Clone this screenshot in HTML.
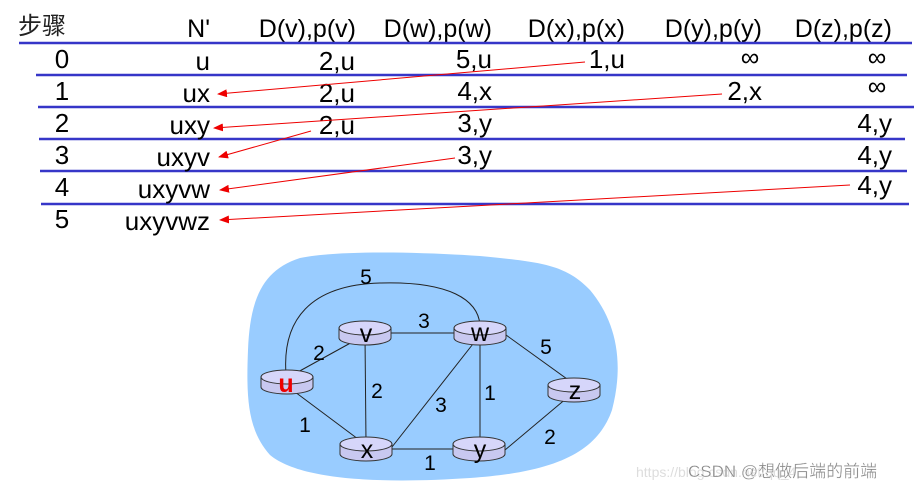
<!DOCTYPE html>
<html><head><meta charset="utf-8"><style>
html,body{margin:0;padding:0;background:#fff;width:914px;height:492px;overflow:hidden}
svg text{font-family:"Liberation Sans","Noto Sans CJK SC",sans-serif}
</style></head><body>
<svg width="914" height="492" viewBox="0 0 914 492" xmlns="http://www.w3.org/2000/svg">
<defs>
<marker id="ar" markerWidth="10" markerHeight="8" refX="9" refY="4" orient="auto" markerUnits="userSpaceOnUse">
<path d="M0,0 L10,4 L0,8 z" fill="#e00"/>
</marker>
<g id="node">
<path d="M-26,-5 L-26,5 A26,7 0 0 0 26,5 L26,-5 Z" fill="#c8c8f0" stroke="#333" stroke-width="1"/>
<ellipse cx="0" cy="-5" rx="26" ry="7" fill="#d6d6fa" stroke="#333" stroke-width="1"/>
</g>
</defs>
<g font-size="25" fill="#000">
<text x="18" y="34" font-family="'Noto Serif CJK SC',serif" font-size="24" fill="#222">步骤</text>
<text x="210" y="37" text-anchor="end">N'</text>
<text x="356" y="37" text-anchor="end">D(v),p(v)</text>
<text x="492" y="37" text-anchor="end">D(w),p(w)</text>
<text x="625" y="37" text-anchor="end">D(x),p(x)</text>
<text x="762" y="37" text-anchor="end">D(y),p(y)</text>
<text x="892" y="37" text-anchor="end">D(z),p(z)</text>
</g>
<g stroke="#3636c8" stroke-width="2.5">
<line x1="19" y1="43" x2="912" y2="43"/>
<line x1="36" y1="75" x2="907" y2="75"/>
<line x1="38" y1="107" x2="914" y2="107"/>
<line x1="39" y1="139" x2="905" y2="139"/>
<line x1="40" y1="171" x2="907" y2="171"/>
<line x1="41" y1="204" x2="909" y2="204"/>
</g>
<g font-size="26" fill="#000">
<text x="62" y="68" text-anchor="middle">0</text>
<text x="62" y="100" text-anchor="middle">1</text>
<text x="62" y="132" text-anchor="middle">2</text>
<text x="62" y="164" text-anchor="middle">3</text>
<text x="62" y="196" text-anchor="middle">4</text>
<text x="62" y="228" text-anchor="middle">5</text>
<g text-anchor="end">
<text x="210" y="70">u</text>
<text x="210" y="102">ux</text>
<text x="210" y="134">uxy</text>
<text x="210" y="166">uxyv</text>
<text x="210" y="198">uxyvw</text>
<text x="210" y="230">uxyvwz</text>
<text x="355" y="70">2,u</text>
<text x="355" y="102">2,u</text>
<text x="355" y="134">2,u</text>
<text x="492" y="68">5,u</text>
<text x="492" y="100">4,x</text>
<text x="492" y="132">3,y</text>
<text x="492" y="164">3,y</text>
<text x="625" y="68">1,u</text>
<text x="762" y="100">2,x</text>
<text x="892" y="132">4,y</text>
<text x="892" y="164">4,y</text>
<text x="892" y="194">4,y</text>
</g>
<text x="750" y="66" text-anchor="middle">∞</text>
<text x="877" y="66" text-anchor="middle">∞</text>
<text x="877" y="95" text-anchor="middle">∞</text>
</g>
<g stroke="#e00" stroke-width="1" fill="none">
<line x1="585" y1="62" x2="218" y2="94" marker-end="url(#ar)"/>
<line x1="722" y1="94" x2="214" y2="128" marker-end="url(#ar)"/>
<line x1="311" y1="131" x2="219" y2="157" marker-end="url(#ar)"/>
<line x1="455" y1="158" x2="220" y2="190" marker-end="url(#ar)"/>
<line x1="850" y1="185" x2="220" y2="220" marker-end="url(#ar)"/>
</g>
<path d="M300,258 C340,250 420,252 480,256 C540,262 565,264 590,290 C615,320 625,360 612,410 C598,450 560,472 470,478 C380,484 300,480 270,455 C248,430 246,400 248,350 C250,300 262,270 300,258 Z" fill="#99ccff"/>
<g stroke="#222" stroke-width="1" fill="none">
<path d="M286,374 C282,320 310,285 380,283 C450,281 478,300 480,325"/>
<line x1="287" y1="378" x2="365" y2="335"/>
<line x1="287" y1="386" x2="366" y2="445"/>
<line x1="391" y1="333" x2="455" y2="333"/>
<line x1="365" y1="336" x2="366" y2="443"/>
<line x1="480" y1="335" x2="392" y2="447"/>
<line x1="480" y1="335" x2="480" y2="443"/>
<line x1="506" y1="335" x2="574" y2="384"/>
<line x1="392" y1="449" x2="453" y2="449"/>
<line x1="505" y1="450" x2="574" y2="392"/>
</g>
<use href="#node" x="365" y="333"/>
<use href="#node" x="480" y="333"/>
<use href="#node" x="287" y="382"/>
<use href="#node" x="574" y="390"/>
<use href="#node" x="366" y="449"/>
<use href="#node" x="479" y="449"/>
<g font-size="25" text-anchor="middle" fill="#000">
<text x="366" y="342">v</text>
<text x="480" y="341">w</text>
<text x="286" y="392" fill="#e00" font-weight="bold">u</text>
<text x="575" y="399">z</text>
<text x="367" y="458">x</text>
<text x="480" y="458">y</text>
</g>
<g font-size="21" text-anchor="middle" fill="#000">
<text x="366" y="284">5</text>
<text x="424" y="328">3</text>
<text x="319" y="360">2</text>
<text x="546" y="354">5</text>
<text x="377" y="398">2</text>
<text x="441" y="412">3</text>
<text x="490" y="400">1</text>
<text x="305" y="432">1</text>
<text x="430" y="470">1</text>
<text x="550" y="444">2</text>
</g>
<text x="636" y="477" font-size="14" fill="#ddd">https://blog.csdn.net/qq_4</text>
<text x="688" y="477" font-size="17" fill="#888" stroke="#fff" stroke-width="0.3">CSDN @想做后端的前端</text>
</svg>
</body></html>
